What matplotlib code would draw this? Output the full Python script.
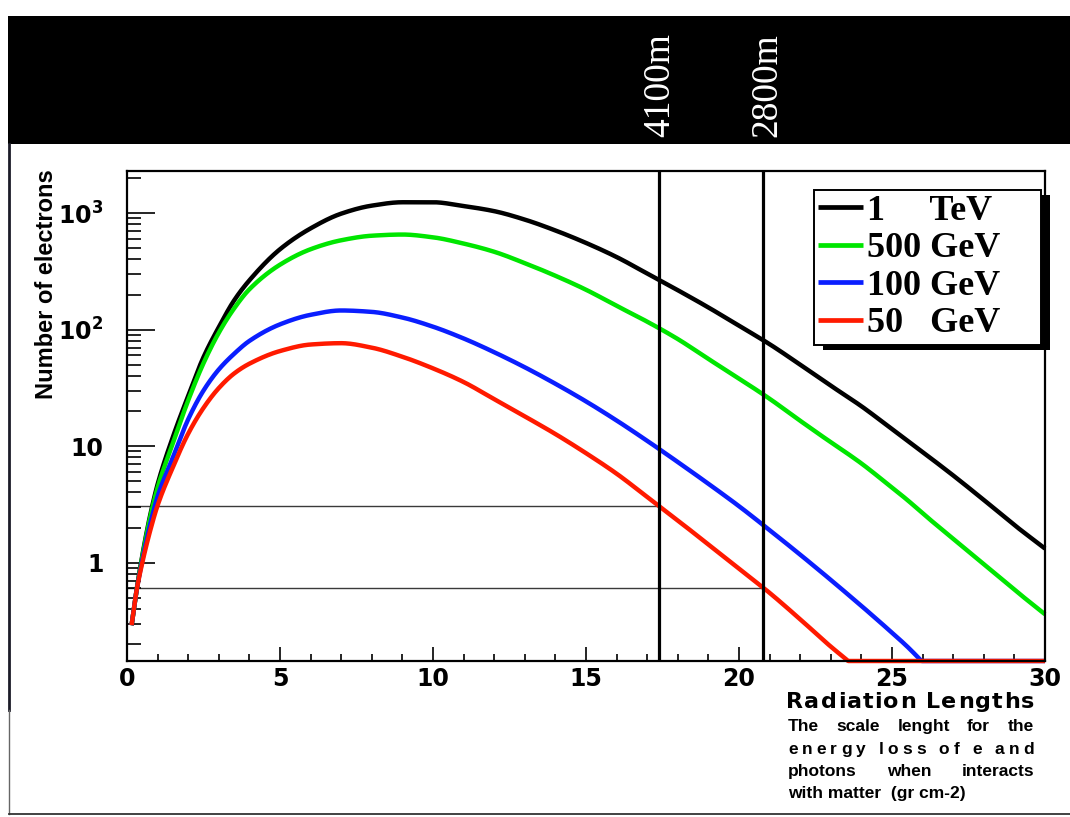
import numpy as np
import matplotlib
matplotlib.use("Agg")
import matplotlib.pyplot as plt
from matplotlib.patches import Rectangle
from matplotlib.lines import Line2D
from matplotlib.ticker import FixedLocator, FixedFormatter, LogLocator, MultipleLocator, NullFormatter
from matplotlib.font_manager import FontProperties, findfont
from matplotlib.ft2font import FT2Font

# ---- shower profiles: number of electrons vs depth (radiation lengths) ----
depth = [0.15, 0.3, 0.5, 0.75, 1.0, 1.5, 2.0, 2.5, 3.0, 3.5, 4.0,
         5, 6, 7, 8, 9, 10, 11, 12, 13, 14, 15, 16, 17, 18, 19, 20, 21, 22, 23, 23.5,
         24, 25, 25.5, 26, 27, 28, 29, 30]

electrons_1tev = [0.29, 0.55, 1.15, 2.5, 4.7, 12, 27, 58, 105, 178, 265,
                  490, 740, 990, 1160, 1240, 1240, 1150, 1040, 880, 710, 555, 420, 303, 218,
                  155, 108, 75, 50, 33, 27.0,
                  22, 14, 11.2, 8.9, 5.6, 3.45, 2.1, 1.32]
electrons_500gev = [0.29, 0.55, 1.12, 2.4, 4.4, 10.6, 24.7, 51.5, 94, 152, 222,
                    361, 490, 585, 640, 655, 620, 548, 466, 372, 290, 220, 160, 117, 83,
                    56, 38, 25.5, 16.5, 10.8, 8.8,
                    7.1, 4.4, 3.45, 2.65, 1.6, 0.97, 0.585, 0.36]
electrons_100gev = [0.29, 0.55, 1.05, 2.1, 3.7, 8.0, 17, 30, 45.5, 62, 80,
                    111, 134, 146, 142, 127, 106, 84, 64, 47.5, 34.3, 24.2, 16.6, 11.1, 7.3,
                    4.75, 3.05, 1.9, 1.17, 0.71, 0.55,
                    0.425, 0.25, 0.19, 0.14, 0, 0, 0, 0]
electrons_50gev = [0.29, 0.55, 1.0, 1.85, 3.1, 6.6, 12.8, 21.3, 31.5, 42, 51,
                   65.5, 74.5, 76.5, 70, 58.5, 46.5, 35.5, 25.3, 18, 12.7, 8.7, 5.8, 3.66, 2.3,
                   1.43, 0.89, 0.55, 0.326, 0.19, 0.148,
                   0.112, 0, 0, 0, 0, 0, 0, 0]

series_labels = ["1     TeV", "500 GeV", "100 GeV", "50   GeV"]
series_colors = ["#000000", "#00e600", "#0a1eff", "#ff1a00"]

# observation levels (depth in radiation lengths) and the shower size reached there
altitude_depths = [17.4, 20.8]
altitude_labels = ["4100m", "2800m"]
threshold_levels = [3.06, 0.61]

y_ticks = [1, 10, 100, 1000]
y_tick_labels = ["1", "10", "10$^{2}$", "10$^{3}$"]
x_range = (0, 30)
y_range = (0.143, 2300)

W, H = 1070, 817
plt.rcParams["mathtext.fontset"] = "custom"
plt.rcParams["mathtext.rm"] = "DejaVu Sans:bold"
plt.rcParams["mathtext.it"] = "DejaVu Sans:bold"
plt.rcParams["mathtext.bf"] = "DejaVu Sans:bold"
plt.rcParams["mathtext.default"] = "regular"

fig = plt.figure(figsize=(W / 100, H / 100), dpi=100, facecolor="white")


def fx(px):
    return px / W


def fy(py):
    return 1 - py / H


def smooth_log_curve(x, y, per_unit=40):
    """Monotone cubic (PCHIP) through the points in (x, log10 y); zeros sit on the floor."""
    x = np.asarray(x, dtype=float)
    y = np.asarray(y, dtype=float)
    pos = y > 0
    xs, ls = x[pos], np.log10(y[pos])
    h = np.diff(xs)
    delta = np.diff(ls) / h
    m = np.zeros_like(ls)
    m[0], m[-1] = delta[0], delta[-1]
    for k in range(1, len(ls) - 1):
        if delta[k - 1] * delta[k] > 0:
            w1 = 2 * h[k] + h[k - 1]
            w2 = h[k] + 2 * h[k - 1]
            m[k] = (w1 + w2) / (w1 / delta[k - 1] + w2 / delta[k])
    xn = np.linspace(xs[0], xs[-1], int((xs[-1] - xs[0]) * per_unit) + 2)
    i = np.clip(np.searchsorted(xs, xn) - 1, 0, len(xs) - 2)
    t = (xn - xs[i]) / h[i]
    t2, t3 = t * t, t * t * t
    yn = ((2 * t3 - 3 * t2 + 1) * ls[i] + (t3 - 2 * t2 + t) * h[i] * m[i]
          + (-2 * t3 + 3 * t2) * ls[i + 1] + (t3 - t2) * h[i] * m[i + 1])
    xr = x[~pos]
    xn = np.concatenate([xn, xr])
    yv = np.concatenate([10 ** yn, np.zeros(len(xr))])
    return xn, np.maximum(yv, y_range[0])


ax = fig.add_axes([fx(127), fy(661), fx(1045) - fx(127), fy(171) - fy(661)])
ax.set_yscale("log")
ax.set_xlim(*x_range)
ax.set_ylim(*y_range)

# reference levels
for d, lev in zip(altitude_depths, threshold_levels):
    ax.plot([x_range[0], d], [lev, lev], color="#3a3a3a", lw=1.0, zorder=1)

curves = [electrons_1tev, electrons_500gev, electrons_100gev, electrons_50gev]
handles = []
for vals, col, lab in zip(curves, series_colors, series_labels):
    xc, yc = smooth_log_curve(depth, vals)
    ln, = ax.plot(xc, yc, color=col, lw=3.2, zorder=2, clip_on=False,
                  solid_joinstyle="round", solid_capstyle="butt", label=lab)
    handles.append(ln)

for d in altitude_depths:
    ax.axvline(d, color="black", lw=2.3, zorder=3)

for sp in ax.spines.values():
    sp.set_linewidth(1.6)
    sp.set_zorder(4)

ax.xaxis.set_major_locator(MultipleLocator(5))
ax.xaxis.set_minor_locator(MultipleLocator(1))
ax.yaxis.set_major_locator(FixedLocator(y_ticks))
ax.yaxis.set_major_formatter(FixedFormatter(y_tick_labels))
ax.yaxis.set_minor_locator(LogLocator(base=10, subs=range(2, 10), numticks=50))
ax.yaxis.set_minor_formatter(NullFormatter())
ax.tick_params(axis="both", which="both", direction="in", width=1.2, color="black")
ax.tick_params(axis="y", which="major", length=20, pad=17)
ax.tick_params(axis="y", which="minor", length=10)
ax.tick_params(axis="x", which="major", length=10, pad=4)
ax.tick_params(axis="x", which="minor", length=5)
for lab in ax.get_xticklabels() + ax.get_yticklabels():
    lab.set_fontfamily("DejaVu Sans")
    lab.set_fontweight("bold")
    lab.set_fontsize(17)

leg = ax.legend(handles=handles, loc="upper left",
                bbox_to_anchor=(fx(814), fy(345), fx(1041) - fx(814), fy(190) - fy(345)),
                bbox_transform=fig.transFigure, mode="expand",
                borderaxespad=0, borderpad=0.12, labelspacing=0.12,
                handlelength=1.25, handletextpad=0.1, frameon=True, fancybox=False,
                framealpha=1, edgecolor="black",
                prop=FontProperties(family="Liberation Serif", weight="bold", size=26))
leg.get_frame().set_linewidth(1.4)
leg.set_zorder(6)
for lh in leg.get_lines():
    lh.set_linewidth(3.4)

# frame decorations
fig.add_artist(Rectangle((fx(8), fy(144)), 1 - fx(8), fy(16) - fy(144),
                         transform=fig.transFigure, facecolor="black", edgecolor="none"))
fig.add_artist(Line2D([fx(9), fx(9)], [fy(144), fy(710)], lw=2, color="#1c1c28",
                      transform=fig.transFigure))
fig.add_artist(Line2D([fx(9), fx(9)], [fy(710), fy(814)], lw=1, color="#666666",
                      transform=fig.transFigure))
fig.add_artist(Line2D([fx(9), 1], [fy(814), fy(814)], lw=1.3, color="#333333",
                      transform=fig.transFigure))

for d, txt, cx in zip(altitude_depths, altitude_labels, [660, 767]):
    fig.text(fx(cx), fy(85), txt, rotation=90, color="white", ha="center", va="center",
             fontsize=27, family="Liberation Serif")

fig.text(fx(47), fy(284), "Number of electrons", rotation=90, ha="center", va="center",
         fontsize=17, family="Liberation Sans", weight="bold")


def advances(text, prop):
    font = FT2Font(findfont(prop))
    font.set_size(prop.get_size_in_points(), fig.dpi)
    out = []
    for ch in text:
        g = font.load_char(ord(ch))
        out.append(g.linearHoriAdvance / 65536)
    return out


def spread_line(text, x0, x1, y, prop, mode):
    """Lay out one line between x0 and x1 (pixels); mode 'words', 'chars' or 'left'."""
    if mode == "left":
        fig.text(fx(x0), fy(y), text, fontproperties=prop, ha="left", va="baseline")
        return
    adv = advances(text, prop)
    if mode == "words":
        words = text.split(" ")
        widths = []
        i = 0
        for w in words:
            widths.append(sum(adv[i:i + len(w)]))
            i += len(w) + 1
        gap = (x1 - x0 - sum(widths)) / (len(words) - 1)
        x = x0
        for w, wd in zip(words, widths):
            fig.text(fx(x), fy(y), w, fontproperties=prop, ha="left", va="baseline")
            x += wd + gap
    else:
        extra = (x1 - x0 - sum(adv)) / (len(text) - 1)
        x = x0
        for ch, a in zip(text, adv):
            if ch != " ":
                fig.text(fx(x), fy(y), ch, fontproperties=prop, ha="left", va="baseline")
            x += a + extra


title_prop = FontProperties(family="DejaVu Sans", weight="bold", size=16)
note_prop = FontProperties(family="Liberation Sans", weight="bold", size=12.5)
spread_line("Radiation Lengths", 786, 1034, 708, title_prop, "chars")
spread_line("The scale lenght for the", 788, 1034, 731, note_prop, "words")
spread_line("energy loss of e and", 788, 1034, 754, note_prop, "chars")
spread_line("photons when interacts", 788, 1034, 776, note_prop, "words")
spread_line("with matter  (gr cm-2)", 788, 1034, 798, note_prop, "left")

# legend drop shadow
fig.canvas.draw()
bb = leg.get_frame().get_window_extent()
inv = ax.transAxes.inverted()
(a0, b0), (a1, b1) = inv.transform([(bb.x0 + 9, bb.y0 - 5), (bb.x1 + 9, bb.y1 - 5)])
ax.add_patch(Rectangle((a0, b0), a1 - a0, b1 - b0, transform=ax.transAxes,
                       facecolor="black", edgecolor="none", zorder=5.5, clip_on=False))

fig.savefig("out.png", dpi=100, facecolor="white")
